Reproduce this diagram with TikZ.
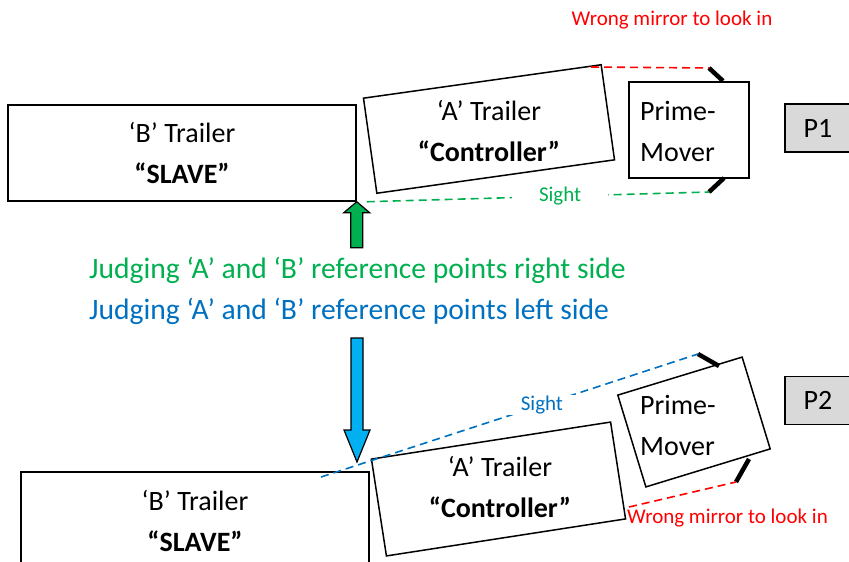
\documentclass[tikz,border=0pt]{standalone}
\usepackage{fontspec}
\setmainfont{Carlito}
\definecolor{okgreen}{HTML}{00B050}
\definecolor{okblue}{HTML}{0070C0}
\definecolor{arrblue}{HTML}{00B0F0}
\definecolor{boxgray}{HTML}{D9D9D9}
\begin{document}
\begin{tikzpicture}[x=1pt,y=-1pt,
    trailer/.style={draw,line width=1.5pt,minimum height=96pt,inner sep=0pt},
    big/.style={font=\fontsize{28}{41}\selectfont,align=center,inner sep=0pt},
    judge/.style={font=\fontsize{29.6}{36}\selectfont,anchor=west,inner sep=0pt},
    small/.style={font=\fontsize{21}{25}\selectfont},
    sight/.style={line width=1.6pt,dash pattern=on 8pt off 5pt},
    mirror/.style={line width=4.5pt},
    pbox/.style={draw,line width=1.5pt,fill=boxgray,minimum width=66pt,minimum height=48pt,font=\fontsize{28}{34}\selectfont},
    blockarr/.style={draw,line width=1.2pt}]
\useasboundingbox (0,0) rectangle (849,562);
\clip (0,0) rectangle (849,562);
% P1
\node[trailer,minimum width=348pt] (b1) at (182,153) {};
\node[big] (b1t) at (b1.center) {‘B’ Trailer\\\textbf{“SLAVE”}};
\node[trailer,minimum width=240pt,rotate=8] (a1) at (489,129) {};
\node[big] (a1t) at (489,131) {‘A’ Trailer\\\textbf{“Controller”}};
\node[trailer,minimum width=120pt] (pm1) at (689,130) {};
\node[big,align=left,anchor=west] (pm1t) at (640,131) {Prime-\\Mover};
\node[pbox] (p1) at (818,128) {P1};
\coordinate (m1a) at (709,68);
\coordinate (m1b) at (709,192);
\coordinate (r1) at (591,67);
\draw[mirror] (m1a) -- (723,81);
\draw[mirror] (m1b) -- (724,178);
\draw[sight,red] (r1) -- (m1a);
\draw[sight,okgreen] ([xshift=10pt]b1.south east) -- node[pos=.565,small,fill=white,inner xsep=27pt,inner ysep=1pt] (s1) {Sight} (m1b);
\node[small,text=red] (w1) at (672,20) {Wrong mirror to look in};
\draw[blockarr,fill=okgreen] (b1.south east) -- ++(13,11) -- ++(-7,0) -- ++(0,35) -- ++(-12,0) -- ++(0,-35) -- ++(-7,0) -- cycle;
% texte
\node[judge,text=okgreen] (j1) at (89,270) {Judging ‘A’ and ‘B’ reference points right side};
\node[judge,text=okblue] (j2) at (89,311) {Judging ‘A’ and ‘B’ reference points left side};
% P2
\node[trailer,minimum width=348pt] (b2) at (195,520) {};
\node[big] (b2t) at (195,521) {‘B’ Trailer\\\textbf{“SLAVE”}};
\node[trailer,minimum width=242pt,minimum height=98pt,rotate=8.8] (a2) at (498.5,489) {};
\node[big] (a2t) at (500,487) {‘A’ Trailer\\\textbf{“Controller”}};
\node[trailer,minimum width=130pt,rotate=17] (pm2) at (694,422) {};
\node[big,align=left,anchor=west] (pm2t) at (640,425) {Prime-\\Mover};
\node[pbox] (p2) at (818,400.5) {P2};
\coordinate (tip2) at (357,462);
\draw[blockarr,fill=arrblue] (tip2) -- ++(13,-32) -- ++(-7,0) -- ++(0,-92) -- ++(-12,0) -- ++(0,92) -- ++(-7,0) -- cycle;
\coordinate (m2a) at (698,354);
\coordinate (m2b) at (736,482);
\coordinate (e2) at (321,477);
\coordinate (r2) at (629,507);
\draw[mirror] (m2a) -- (719,366);
\draw[mirror] (m2b) -- (749,459);
\draw[sight,okblue] (e2) -- node[pos=.586,small,fill=white,inner xsep=28pt,inner ysep=1pt] (s2) {Sight} (m2a);
\draw[sight,red] (r2) -- (m2b);
\node[small,text=red,anchor=west,inner sep=0pt] (w2) at (627,518) {Wrong mirror to look in};
\end{tikzpicture}
\end{document}
